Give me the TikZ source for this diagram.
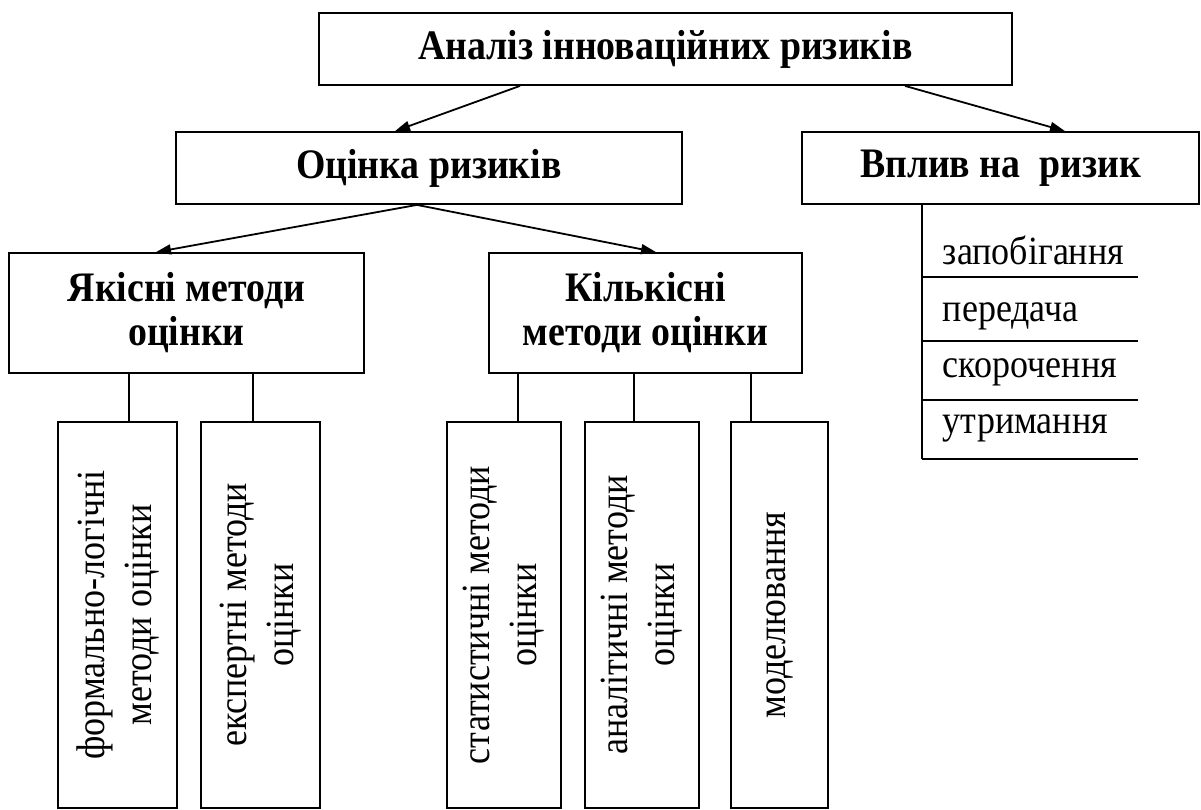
\documentclass[tikz,border=0pt]{standalone}
\usepackage{fontspec}
\setmainfont{Liberation Serif}[FakeStretch=0.9]
\usetikzlibrary{arrows.meta, calc, positioning}

\begin{document}
\begin{tikzpicture}[
    x=1pt, y=-1pt,
    >={Triangle[length=15pt, width=10pt]},
    line width=1.8pt,
    head/.style={draw, rectangle, inner sep=0pt, align=center,
                 font=\bfseries\fontsize{42}{44}\selectfont},
    leaf/.style={draw, rectangle, inner sep=0pt, minimum height=386pt},
    vtext/.style={rotate=90, align=center, inner sep=0pt,
                  font=\fontsize{40}{47}\selectfont},
    item/.style={anchor=base west, inner sep=0pt,
                 font=\fontsize{40}{44}\selectfont},
    link/.style={->, line width=1.8pt},
]

\useasboundingbox (0,0) rectangle (1201,809);

% root and second level
\node[head, minimum width=693pt, minimum height=72pt] (analysis) at (665.5,49)
    {Аналіз інноваційних ризиків};
\node[head, minimum width=506pt, minimum height=72pt] (assess) at (429,168)
    {Оцінка ризиків};
\node[head, minimum width=397pt, minimum height=72pt] (impact) at (1000.5,168)
    {Вплив на\ \ ризик};

\draw[link] ([xshift=-145.5pt]analysis.south) -- ([xshift=-34pt]assess.north);
\draw[link] ([xshift=239.5pt]analysis.south) -- ([xshift=64.5pt]impact.north);

% method groups
\node[head, minimum width=355pt, minimum height=120pt] (quality) at (186.5,313)
    {Якісні методи\\оцінки};
\node[head, minimum width=313pt, minimum height=120pt] (quantity) at (645.5,313)
    {Кількісні\\методи оцінки};

\draw[link] ([xshift=-12pt]assess.south) -- ([xshift=-30.5pt]quality.north);
\draw[link] ([xshift=-12pt]assess.south) -- ([xshift=10.5pt]quantity.north);

% vertical leaves
\foreach \nm/\cx/\bw/\sh/\pa/\txt in {
    formal/117.5/119/11.5/quality/{формально-логічні\\методи оцінки},
    expert/260.5/119/-7.5/quality/{експертні методи\\оцінки},
    stat/504/114/14/quantity/{статистичні методи\\оцінки},
    analyt/642/114/-8/quantity/{аналітичні методи\\оцінки},
    model/779.5/97/-28.5/quantity/{моделювання}} {
    \node[leaf, minimum width=\bw pt, label={[vtext]center:\txt}] (\nm) at (\cx,615) {};
    \draw ([xshift=\sh pt]\nm.north) -- ([xshift=\sh pt]\nm.north |- \pa.south);
}

% ways to act on the risk
\coordinate (spine) at ([xshift=-78.5pt]impact.south);
\draw (spine) -- (spine |- 0,459);
\foreach \yl in {277,341,400,459} {
    \draw (spine |- 0,\yl) -- ++(216,0);
}
\foreach \nm/\yb/\txt in {prevent/264/запобігання, transfer/321/передача,
                          reduce/377/скорочення, retain/433/утримання} {
    \node[item] (\nm) at (942,\yb) {\txt};
}

\end{tikzpicture}
\end{document}
